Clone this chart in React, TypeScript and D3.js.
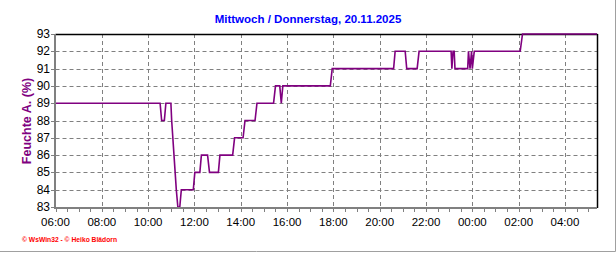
import React from "react";
import * as d3 from "d3";

const times = [
  "06:00", "10:31", "10:35", "10:42", "10:46", "10:59", "11:01", "11:04", "11:07", "11:10",
  "11:13", "11:17", "11:22", "11:26", "11:57", "12:01", "12:14", "12:18", "12:34", "12:39",
  "13:02", "13:06", "13:39", "13:44", "14:06", "14:11", "14:37", "14:42", "15:25", "15:30",
  "15:41", "15:45", "15:49", "17:52", "17:57", "20:36", "20:40", "21:06", "21:10", "21:37",
  "21:42", "23:05", "23:07", "23:10", "23:13", "23:15", "23:48", "23:50", "23:54", "23:58",
  "00:00", "00:05", "02:04", "02:10", "05:23",
];
const humidity = [
  89, 89, 88, 88, 89, 89, 88, 87, 86, 85,
  84, 83, 83, 84, 84, 85, 85, 86, 86, 85,
  85, 86, 86, 87, 87, 88, 88, 89, 89, 90,
  90, 89, 90, 90, 91, 91, 92, 92, 91, 91,
  92, 92, 91, 92, 92, 91, 91, 92, 91, 92,
  91, 92, 92, 93, 93,
];
const xTickLabels = ["06:00", "08:00", "10:00", "12:00", "14:00", "16:00", "18:00", "20:00", "22:00", "00:00", "02:00", "04:00"];
const yTickValues = [83, 84, 85, 86, 87, 88, 89, 90, 91, 92, 93];
const domainStart = "06:00";
const domainEnd = "05:23";
const title = "Mittwoch / Donnerstag, 20.11.2025";
const yTitle = "Feuchte A. (%)";
const credit = "© WsWin32 - © Heiko Blädorn";

const base = new Date(2025, 10, 19, 6, 0, 0);
function toDate(s: string): Date {
  const [h, m] = s.split(":").map(Number);
  let hrs = h + m / 60;
  if (h < 6) hrs += 24;
  return new Date(base.getTime() + (hrs - 6) * 3600e3);
}

const FONT = "'Liberation Sans', Arial, sans-serif";

export default function App() {
  const W = 616, H = 253;
  const left = 55.5, right = 597, top = 34, bottom = 207;
  const x = d3.scaleTime().domain([toDate(domainStart), toDate(domainEnd)]).range([left, right]);
  const y = d3.scaleLinear().domain([83, 93]).range([bottom, top]);

  const pts = times.map((t, i) => [toDate(t), humidity[i]] as [Date, number]);
  const line = d3.line<[Date, number]>().x((d) => x(d[0])).y((d) => y(d[1]));

  const minorTicks = d3.timeMinute.every(30)!.range(toDate(domainStart), new Date(toDate(domainEnd).getTime() + 1));
  const majorTicks = xTickLabels.map(toDate);

  return (
    <svg width={W} height={H} style={{ position: "absolute", left: 0, top: 0, background: "#fff" }} fontFamily={FONT}>
      <rect x={0} y={0} width={W} height={H} fill="#fff" />
      <line x1={0} y1={251.5} x2={615.5} y2={251.5} stroke="#a0a0a0" strokeWidth={1} />
      <line x1={615.5} y1={0} x2={615.5} y2={251.5} stroke="#a0a0a0" strokeWidth={1} />

      <text x={308} y={19} textAnchor="middle" dominantBaseline="central" fill="#0000ff" fontWeight="bold" fontSize={11.5}>
        {title}
      </text>

      {yTickValues.filter((v) => v > 83 && v < 93).map((v) => (
        <line key={"hg" + v} x1={left} x2={right} y1={Math.round(y(v)) + 0.5} y2={Math.round(y(v)) + 0.5}
          stroke="#808080" strokeWidth={1} strokeDasharray="4,3" />
      ))}
      {majorTicks.slice(1).map((d, i) => (
        <line key={"vg" + i} x1={Math.round(x(d)) + 0.5} x2={Math.round(x(d)) + 0.5} y1={top} y2={bottom}
          stroke="#808080" strokeWidth={1} strokeDasharray="4,3" />
      ))}

      <line x1={left} x2={right + 0.5} y1={top + 0.5} y2={top + 0.5} stroke="#000" strokeWidth={1.5} />
      <line x1={right + 0.5} x2={right + 0.5} y1={top} y2={bottom + 1} stroke="#000" strokeWidth={1.5} />

      <path d={line(pts) || ""} fill="none" stroke="#800080" strokeWidth={1.6} strokeLinejoin="miter" />

      <line x1={55} x2={55} y1={top} y2={bottom + 2} stroke="#808080" strokeWidth={2} />
      <line x1={54} x2={right} y1={208} y2={208} stroke="#808080" strokeWidth={2} />

      {yTickValues.map((v) => (
        <g key={"yt" + v}>
          <line x1={51} x2={55} y1={Math.round(y(v)) + 0.5} y2={Math.round(y(v)) + 0.5} stroke="#808080" strokeWidth={1} />
          <text x={50} y={y(v)} textAnchor="end" dominantBaseline="central" fontSize={12} fill="#000">
            {v}
          </text>
        </g>
      ))}

      {minorTicks.map((d, i) => (
        <line key={"xt" + i} x1={Math.round(x(d)) + 0.5} x2={Math.round(x(d)) + 0.5} y1={209} y2={212}
          stroke="#808080" strokeWidth={1} />
      ))}
      {majorTicks.map((d, i) => (
        <text key={"xl" + i} x={x(d)} y={222} textAnchor="middle" dominantBaseline="central" fontSize={11.5} fill="#000">
          {xTickLabels[i]}
        </text>
      ))}

      <text transform="translate(26.5,121) rotate(-90)" textAnchor="middle" dominantBaseline="central"
        fill="#800080" fontWeight="bold" fontSize={12.5}>
        {yTitle}
      </text>

      <text x={22} y={239} dominantBaseline="central" fill="#ff0000" fontSize={7} fontWeight="bold"
        textLength={95} lengthAdjust="spacingAndGlyphs">
        {credit}
      </text>
    </svg>
  );
}
